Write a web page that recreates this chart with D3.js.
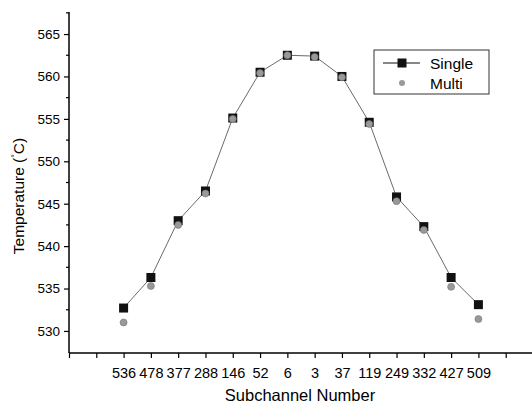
<!DOCTYPE html>
<html>
<head>
<meta charset="utf-8">
<script src="https://cdn.jsdelivr.net/npm/d3@7"></script>
<style>
  body { margin: 0; background: #fff; }
  text { font-family: Arial, "Liberation Sans", sans-serif; fill: #000; }
</style>
</head>
<body>
<script>
// Subchannel labels along the x axis, in plotting order
const subchannels = ["536", "478", "377", "288", "146", "52", "6", "3", "37", "119", "249", "332", "427", "509"];

// Temperatures (°C)
const singleTemps = [532.7, 536.3, 543.0, 546.5, 555.1, 560.5, 562.5, 562.4, 560.0, 554.6, 545.8, 542.3, 536.3, 533.1];
const multiTemps = [531.0, 535.3, 542.5, 546.2, 555.0, 560.4, 562.5, 562.3, 559.9, 554.4, 545.3, 541.9, 535.2, 531.4];

const yMajor = [530, 535, 540, 545, 550, 555, 560, 565];
const yMinor = [532.5, 537.5, 542.5, 547.5, 552.5, 557.5, 562.5, 567.5];

const draw = () => {
  const width = 532;
  const height = 409;

  // Points sit at slot 2..15 on a 0..17 slot axis
  const x = d3.scaleLinear().domain([0, 17]).range([69, 533]);
  const y = d3.scaleLinear().domain([527.4, 567.6]).range([353, 12]);

  const svg = d3
    .create("svg")
    .attr("width", width)
    .attr("height", height)
    .attr("viewBox", [0, 0, width, height]);

  // x axis: a tick at every slot, labels only where there is data
  const xAxis = svg
    .append("g")
    .attr("transform", `translate(0,${y(527.4)})`)
    .call(
      d3
        .axisBottom(x)
        .tickValues(d3.range(0, 17))
        .tickSize(5)
        .tickFormat((d) => (d >= 2 && d < 2 + subchannels.length ? subchannels[d - 2] : ""))
    );
  xAxis.select(".domain").attr("d", `M${x(0)},0H${x(17)}`).attr("stroke-width", 1.5);
  xAxis.selectAll(".tick line").attr("stroke-width", 1.2);
  xAxis.selectAll(".tick text").attr("y", 15).attr("font-size", 14.5);

  // y axis: major ticks with labels, minor ticks between
  const yAxis = svg
    .append("g")
    .attr("transform", `translate(${x(0)},0)`)
    .call(d3.axisLeft(y).tickValues(yMajor).tickSize(5).tickFormat(d3.format("d")));
  yAxis.select(".domain").attr("d", `M0,${y(527.4)}V${y(567.6)}`).attr("stroke-width", 1.5);
  yAxis.selectAll(".tick line").attr("stroke-width", 1.2);
  yAxis.selectAll(".tick text").attr("x", -9).attr("font-size", 13.5);

  svg
    .append("g")
    .attr("stroke", "#000")
    .attr("stroke-width", 1.2)
    .selectAll()
    .data(yMinor)
    .join("line")
    .attr("x1", x(0) - 3)
    .attr("x2", x(0))
    .attr("y1", (d) => y(d))
    .attr("y2", (d) => y(d));

  // Axis titles
  svg
    .append("text")
    .attr("x", 300)
    .attr("y", 401)
    .attr("text-anchor", "middle")
    .attr("font-size", 16.5)
    .text("Subchannel Number");

  const yTitle = svg
    .append("text")
    .attr("transform", "translate(24,196) rotate(-90)")
    .attr("text-anchor", "middle")
    .attr("font-size", 15.5);
  yTitle.append("tspan").text("Temperature (");
  yTitle.append("tspan").attr("font-size", 9).attr("dy", -6).text("°");
  yTitle.append("tspan").attr("dy", 6).text("C)");

  // Single: thin black line with square markers
  const line = d3
    .line()
    .x((d, i) => x(i + 2))
    .y((d) => y(d));

  svg
    .append("path")
    .datum(singleTemps)
    .attr("fill", "none")
    .attr("stroke", "#444")
    .attr("stroke-width", 0.8)
    .attr("d", line);

  svg
    .append("g")
    .selectAll()
    .data(singleTemps)
    .join("rect")
    .attr("x", (d, i) => x(i + 2) - 4.5)
    .attr("y", (d) => y(d) - 4.5)
    .attr("width", 9)
    .attr("height", 9)
    .attr("fill", "#111");

  // Multi: grey round markers, no line
  svg
    .append("g")
    .selectAll()
    .data(multiTemps)
    .join("circle")
    .attr("cx", (d, i) => x(i + 2))
    .attr("cy", (d) => y(d))
    .attr("r", 3.5)
    .attr("fill", "#999")
    .attr("stroke", "#777")
    .attr("stroke-width", 0.6);

  // Legend
  const legend = svg.append("g").attr("transform", "translate(374,50)");
  legend
    .append("rect")
    .attr("width", 115)
    .attr("height", 44)
    .attr("fill", "#fff")
    .attr("stroke", "#333")
    .attr("stroke-width", 1);
  legend
    .append("line")
    .attr("x1", 9)
    .attr("x2", 46)
    .attr("y1", 13)
    .attr("y2", 13)
    .attr("stroke", "#111")
    .attr("stroke-width", 1.2);
  legend
    .append("rect")
    .attr("x", 23.5)
    .attr("y", 8.5)
    .attr("width", 9)
    .attr("height", 9)
    .attr("fill", "#111");
  legend
    .append("circle")
    .attr("cx", 28)
    .attr("cy", 33)
    .attr("r", 3)
    .attr("fill", "#999");
  legend
    .append("text")
    .attr("x", 56)
    .attr("y", 18.5)
    .attr("font-size", 15.5)
    .text("Single");
  legend
    .append("text")
    .attr("x", 56)
    .attr("y", 38.5)
    .attr("font-size", 15.5)
    .text("Multi");

  d3.select("body").append(() => svg.node());
};

draw();
</script>
</body>
</html>
